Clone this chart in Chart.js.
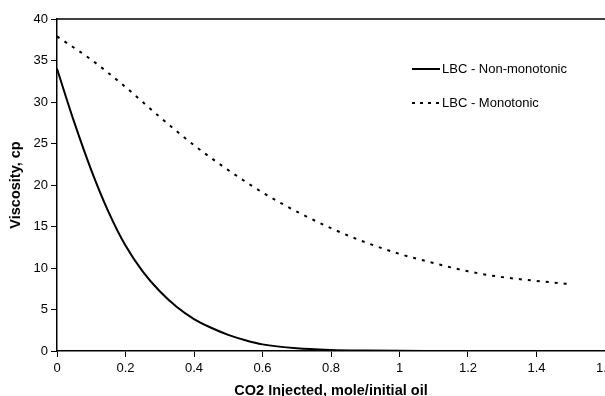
<!DOCTYPE html>
<html>
<head>
<meta charset="utf-8">
<script src="https://cdn.jsdelivr.net/npm/chart.js@4"></script>
<style>
  html, body { margin: 0; padding: 0; background: #fff; overflow: hidden; }
  canvas { display: block; }
</style>
</head>
<body>
<canvas id="viscosityChart" width="605" height="396"></canvas>
<script>
// Dados
const seriesNames = ['LBC - Non-monotonic', 'LBC - Monotonic'];
const xNonMono = [0, 0.05, 0.1, 0.15, 0.2, 0.25, 0.3, 0.35, 0.4, 0.45, 0.5, 0.55, 0.6, 0.7, 0.8, 0.9, 1.0, 1.1, 1.2, 1.3, 1.4, 1.5];
const yNonMono = [34, 27.6, 21.8, 16.8, 12.7, 9.6, 7.2, 5.3, 3.85, 2.8, 1.95, 1.3, 0.8, 0.32, 0.12, 0.05, 0.02, 0.01, 0, 0, 0, 0];
const xMono = [0, 0.1, 0.2, 0.3, 0.4, 0.5, 0.6, 0.7, 0.8, 0.9, 1.0, 1.1, 1.2, 1.3, 1.4, 1.5];
const yMono = [37.9, 35.1, 31.8, 28.2, 24.8, 21.8, 19.1, 16.8, 14.8, 13.1, 11.7, 10.6, 9.6, 8.9, 8.45, 8.05];
const xTitle = 'CO2 Injected, mole/initial oil';
const yTitle = 'Viscosity, cp';

const FONT = '"Liberation Sans", Arial, sans-serif';

const toPoints = (xs, ys) => xs.map((x, i) => ({ x: x, y: ys[i] }));

// Borda superior da área do gráfico + legenda desenhada à mão
const framePlugin = {
    id: 'frame',
    afterDraw(chart) {
        const { ctx, chartArea } = chart;
        ctx.save();
        ctx.strokeStyle = '#000';
        ctx.lineWidth = 1.5;
        ctx.beginPath();
        ctx.moveTo(chartArea.left, chartArea.top);
        ctx.lineTo(chartArea.right, chartArea.top);
        ctx.stroke();

        const rows = [
            { y: 69, dash: [] },
            { y: 103, dash: [3, 5] }
        ];
        ctx.font = '13px ' + FONT;
        ctx.fillStyle = '#000';
        ctx.textBaseline = 'middle';
        rows.forEach((r, i) => {
            ctx.setLineDash(r.dash);
            ctx.lineWidth = 2;
            ctx.beginPath();
            ctx.moveTo(412, r.y);
            ctx.lineTo(440, r.y);
            ctx.stroke();
            ctx.setLineDash([]);
            ctx.fillText(chart.data.datasets[i].label, 442, r.y);
        });
        ctx.restore();
    }
};

new Chart(document.getElementById('viscosityChart'), {
    type: 'line',
    data: {
        datasets: [{
            label: seriesNames[0],
            data: toPoints(xNonMono, yNonMono),
            borderColor: '#000',
            borderWidth: 2,
            pointRadius: 0,
            cubicInterpolationMode: 'monotone',
            fill: false
        }, {
            label: seriesNames[1],
            data: toPoints(xMono, yMono),
            borderColor: '#000',
            borderWidth: 2,
            borderDash: [3, 6],
            pointRadius: 0,
            cubicInterpolationMode: 'monotone',
            fill: false
        }]
    },
    options: {
        responsive: false,
        animation: false,
        devicePixelRatio: 1,
        layout: { padding: { top: 19, left: 0, right: 0, bottom: 0 } },
        plugins: {
            legend: { display: false },
            tooltip: { enabled: false }
        },
        scales: {
            x: {
                type: 'linear',
                min: 0,
                max: 1.6,
                ticks: {
                    stepSize: 0.2,
                    color: '#000',
                    font: { family: FONT, size: 13 },
                    padding: 4,
                    maxRotation: 0,
                    callback: v => String(parseFloat(v.toFixed(1)))
                },
                grid: { drawOnChartArea: false, drawTicks: true, tickLength: 6, color: '#000', lineWidth: 1 },
                border: { color: '#000', width: 1.5 },
                title: {
                    display: true,
                    text: xTitle,
                    color: '#000',
                    font: { family: FONT, size: 14.5, weight: 'bold', lineHeight: 1 },
                    padding: { top: 0, bottom: -2 }
                },
                afterFit: s => { s.height = 45; s.paddingRight = 0; s.paddingLeft = 0; }
            },
            y: {
                min: 0,
                max: 40,
                ticks: {
                    stepSize: 5,
                    color: '#000',
                    font: { family: FONT, size: 13 },
                    padding: 3
                },
                grid: { drawOnChartArea: false, drawTicks: true, tickLength: 6, color: '#000', lineWidth: 1 },
                border: { color: '#000', width: 1.5 },
                title: {
                    display: true,
                    text: yTitle,
                    color: '#000',
                    font: { family: FONT, size: 14.5, weight: 'bold', lineHeight: 1 },
                    padding: { top: 9, bottom: 0 }
                },
                afterFit: s => { s.width = 57; }
            }
        }
    },
    plugins: [framePlugin]
});
</script>
</body>
</html>
